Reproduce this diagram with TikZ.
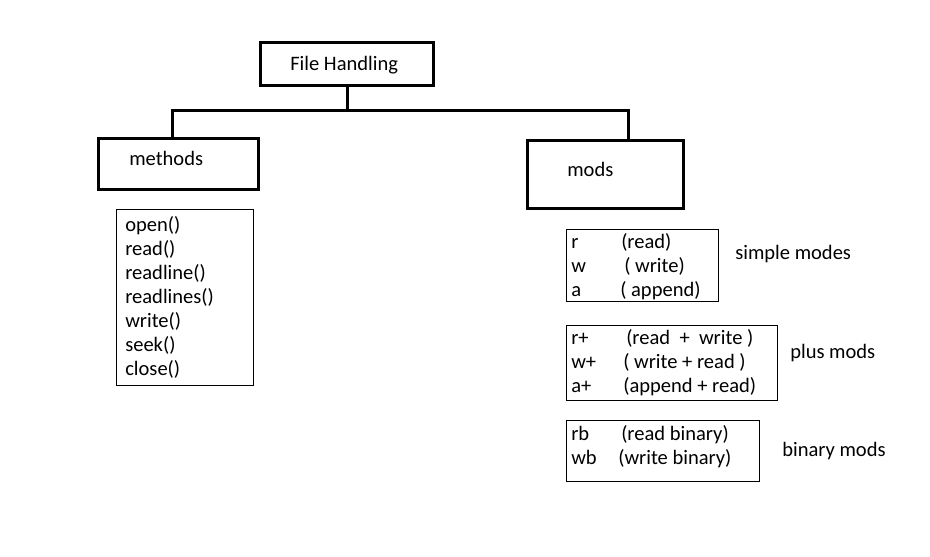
\documentclass[tikz,border=0pt]{standalone}
\usepackage{fontspec}
\setmainfont{Carlito}
\begin{document}
\begin{tikzpicture}[x=0.75pt,y=-0.75pt,
  thickbox/.style={draw,line width=2.25pt,inner sep=0pt,anchor=north west},
  thinbox/.style={draw,line width=0.75pt,inner sep=0pt,anchor=north west},
  txt/.style={inner sep=0pt,anchor=base west,font=\fontsize{15.4}{18}\selectfont},
  conn/.style={line width=2.25pt}]
\useasboundingbox (0,0) rectangle (930,556);
% main boxes
\node[thickbox,minimum width=173*0.75pt,minimum height=43*0.75pt] (fh) at (259,41) {};
\node[txt] (fht) at (290,71) {File Handling};
\node[thickbox,minimum width=160*0.75pt,minimum height=51*0.75pt] (methods) at (97,137) {};
\node[txt] (methodst) at (129,166) {methods};
\node[thickbox,minimum width=156*0.75pt,minimum height=68*0.75pt] (mods) at (526,139) {};
\node[txt] (modst) at (567,176) {mods};
% connectors
\coordinate (b) at (347,111);
\coordinate (bl) at (172,111);
\coordinate (br) at (628,111);
\draw[conn] (fh.south -| b) -- (b);
\draw[conn] (bl |- methods.north) -- (bl) -- (br) -- (br |- mods.north);
% methods list
\node[thinbox,minimum width=137*0.75pt,minimum height=176*0.75pt] (mlist) at (116,209) {};
\node[txt] (m1) at (125,231) {open()};
\node[txt] (m2) at (125,255) {read()};
\node[txt] (m3) at (125,279) {readline()};
\node[txt] (m4) at (125,303) {readlines()};
\node[txt] (m5) at (125,327) {write()};
\node[txt] (m6) at (125,351) {seek()};
\node[txt] (m7) at (125,375) {close()};
% simple modes
\node[thinbox,minimum width=152*0.75pt,minimum height=72*0.75pt] (simple) at (566,229) {};
\node[txt] (s1) at (571,248) {r};
\node[txt] (s1b) at (621,248) {(read)};
\node[txt] (s2) at (571,272) {w};
\node[txt] (s2b) at (624,272) {( write)};
\node[txt] (s3) at (571,296) {a};
\node[txt] (s3b) at (620,296) {( append)};
\node[txt] (simplel) at (735,259) {simple modes};
% plus modes
\node[thinbox,minimum width=211*0.75pt,minimum height=75*0.75pt] (plus) at (566,325) {};
\node[txt] (p1) at (571,344) {r+};
\node[txt] (p1b) at (626,344) {(read~~+~~write )};
\node[txt] (p2) at (571,368) {w+};
\node[txt] (p2b) at (623,368) {( write + read )};
\node[txt] (p3) at (571,392) {a+};
\node[txt] (p3b) at (623,392) {(append + read)};
\node[txt] (plusl) at (790,358) {plus mods};
% binary modes
\node[thinbox,minimum width=193*0.75pt,minimum height=61*0.75pt] (binary) at (566,420) {};
\node[txt] (b1) at (571,440) {rb};
\node[txt] (b1b) at (621,440) {(read binary)};
\node[txt] (b2) at (571,464) {wb};
\node[txt] (b2b) at (618,464) {(write binary)};
\node[txt] (binaryl) at (782,456) {binary mods};
\end{tikzpicture}
\end{document}
